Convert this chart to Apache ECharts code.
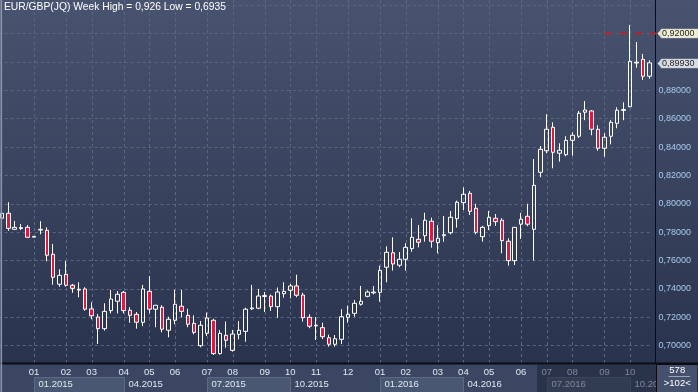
<!DOCTYPE html>
<html><head><meta charset="utf-8">
<script src="https://cdn.jsdelivr.net/npm/echarts@6/dist/echarts.min.js"></script>
<style>html,body{margin:0;padding:0;background:#2c3752;}#c{width:698px;height:392px;}</style>
</head><body><div id="c"></div>
<script>
// ---- data ----
const titleText = 'EUR/GBP(JQ) Week High = 0,926 Low = 0,6935';
const categories = [
 '2014-11-24','2014-12-01','2014-12-08','2014-12-15','2014-12-22','2014-12-29',
 '2015-01-05','2015-01-12','2015-01-19','2015-01-26','2015-02-02','2015-02-09','2015-02-16','2015-02-23',
 '2015-03-02','2015-03-09','2015-03-16','2015-03-23','2015-03-30','2015-04-06','2015-04-13','2015-04-20','2015-04-27',
 '2015-05-04','2015-05-11','2015-05-18','2015-05-25','2015-06-01','2015-06-08','2015-06-15','2015-06-22','2015-06-29',
 '2015-07-06','2015-07-13','2015-07-20','2015-07-27','2015-08-03','2015-08-10','2015-08-17','2015-08-24','2015-08-31',
 '2015-09-07','2015-09-14','2015-09-21','2015-09-28','2015-10-05','2015-10-12','2015-10-19','2015-10-26',
 '2015-11-02','2015-11-09','2015-11-16','2015-11-23','2015-11-30','2015-12-07','2015-12-14','2015-12-21','2015-12-28',
 '2016-01-01','2016-01-04','2016-01-11','2016-01-18','2016-01-25','2016-02-01','2016-02-08','2016-02-15','2016-02-22','2016-02-29',
 '2016-03-07','2016-03-14','2016-03-21','2016-03-28','2016-04-04','2016-04-11','2016-04-18','2016-04-25',
 '2016-05-02','2016-05-09','2016-05-16','2016-05-23','2016-05-30','2016-06-06','2016-06-13','2016-06-20','2016-06-27',
 '2016-07-04','2016-07-11','2016-07-18','2016-07-25','2016-08-01','2016-08-08','2016-08-15','2016-08-22','2016-08-29',
 '2016-09-05','2016-09-12','2016-09-19','2016-09-26','2016-10-03','2016-10-10','2016-10-17','2016-10-24'
];
const openVals = [
 0.7898,0.7933,0.7820,0.7826,0.7834,0.7765,0.7815,0.7813,0.7644,0.7433,
 0.7503,0.7426,0.7392,0.7400,0.7259,0.7202,0.7120,0.7247,0.7313,0.7376,
 0.7249,0.7221,0.7165,0.7383,0.7257,0.7271,0.7109,0.7179,0.7278,0.7214,
 0.7158,0.7000,0.7087,0.7179,0.6944,0.7073,0.6967,0.7080,0.7101,0.7260,
 0.7264,0.7347,0.7350,0.7275,0.7366,0.7390,0.7421,0.7357,0.7200,0.7140,
 0.7127,0.7056,0.7010,0.7045,0.7200,0.7228,0.7292,0.7348,0.7372,0.7376,
 0.7553,0.7655,0.7567,0.7609,0.7684,0.7750,0.7775,0.7877,0.7726,0.7775,
 0.7796,0.7895,0.8008,0.8074,0.7968,0.7768,0.7846,0.7898,0.7884,0.7736,
 0.7599,0.7856,0.7912,0.7820,0.8222,0.8374,0.8539,0.8356,0.8346,0.8447,
 0.8476,0.8645,0.8654,0.8525,0.8391,0.8476,0.8567,0.8658,0.8684,0.8992,
 0.9018,0.8899
];
const closeVals = [
 0.7933,0.7827,0.7834,0.7832,0.7764,0.7770,0.7820,0.7637,0.7482,0.7496,
 0.7426,0.7404,0.7398,0.7257,0.7211,0.7120,0.7242,0.7329,0.7362,0.7247,
 0.7214,0.7165,0.7400,0.7257,0.7285,0.7116,0.7186,0.7292,0.7242,0.7151,
 0.7094,0.7144,0.7195,0.6944,0.7087,0.7038,0.7082,0.7109,0.7257,0.7266,
 0.7350,0.7353,0.7275,0.7378,0.7383,0.7421,0.7355,0.7197,0.7137,0.7144,
 0.7063,0.7010,0.7049,0.7204,0.7221,0.7299,0.7313,0.7378,0.7378,0.7531,
 0.7658,0.7576,0.7609,0.7693,0.7764,0.7729,0.7884,0.7736,0.7757,0.7782,
 0.7905,0.8011,0.8067,0.7947,0.7799,0.7834,0.7905,0.7874,0.7740,0.7599,
 0.7834,0.7891,0.7856,0.8130,0.8384,0.8525,0.8363,0.8377,0.8447,0.8483,
 0.8638,0.8661,0.8525,0.8391,0.8469,0.8574,0.8659,0.8664,0.9004,0.8998,
 0.8899,0.8993
];
const lowVals = [
 0.7885,0.7810,0.7818,0.7815,0.7762,0.7763,0.7785,0.7595,0.7430,0.7416,
 0.7416,0.7373,0.7341,0.7247,0.7186,0.7012,0.7106,0.7228,0.7228,0.7228,
 0.7162,0.7120,0.7137,0.7228,0.7130,0.7094,0.7059,0.7151,0.7200,0.7130,
 0.7080,0.6989,0.7068,0.6935,0.6937,0.6986,0.6958,0.7045,0.7028,0.7252,
 0.7257,0.7237,0.7245,0.7197,0.7338,0.7334,0.7341,0.7169,0.7123,0.7040,
 0.7047,0.6993,0.6993,0.7012,0.7162,0.7204,0.7282,0.7341,0.7362,0.7310,
 0.7447,0.7529,0.7553,0.7529,0.7662,0.7693,0.7733,0.7691,0.7651,0.7733,
 0.7785,0.7832,0.7956,0.7921,0.7785,0.7733,0.7815,0.7844,0.7651,0.7564,
 0.7569,0.7752,0.7842,0.7600,0.8187,0.8356,0.8250,0.8297,0.8335,0.8339,
 0.8464,0.8589,0.8483,0.8374,0.8332,0.8419,0.8532,0.8589,0.8680,0.8959,
 0.8872,0.8882
];
const highVals = [
 0.7950,0.8011,0.7879,0.7858,0.7850,0.7772,0.7877,0.7834,0.7717,0.7538,
 0.7597,0.7435,0.7447,0.7412,0.7306,0.7223,0.7299,0.7393,0.7385,0.7385,
 0.7271,0.7237,0.7428,0.7491,0.7287,0.7285,0.7204,0.7393,0.7393,0.7260,
 0.7214,0.7174,0.7233,0.7190,0.7110,0.7170,0.7111,0.7174,0.7268,0.7428,
 0.7400,0.7378,0.7360,0.7410,0.7447,0.7435,0.7500,0.7373,0.7221,0.7202,
 0.7162,0.7078,0.7075,0.7257,0.7282,0.7322,0.7421,0.7390,0.7420,0.7564,
 0.7700,0.7764,0.7660,0.7722,0.7898,0.7850,0.7937,0.7902,0.7850,0.7914,
 0.7950,0.8022,0.8116,0.8090,0.8000,0.7844,0.7950,0.7928,0.7898,0.7757,
 0.7836,0.7935,0.8000,0.8315,0.8407,0.8631,0.8574,0.8426,0.8476,0.8504,
 0.8654,0.8724,0.8661,0.8553,0.8497,0.8589,0.8680,0.8715,0.9260,0.9140,
 0.9056,0.9011
];
// month ticks (category index -> label)
const monthTickIdx = [5,10,14,19,23,27,32,36,41,45,49,54,59,63,68,72,76,81,85,89,94,98];
const monthTickLbl = ['01','02','03','04','05','06','07','08','09','10','11','12','01','02','03','04','05','06','07','08','09','10'];
// quarter period labels
const periodIdx = [5,19,32,45,59,72,85,98];
const periodLbl = ['01.2015','04.2015','07.2015','10.2015','01.2016','04.2016','07.2016','10.2016'];
const alertLevel = 0.92;
const alertFromIdx = 94;
const dimFromIdx = 84;
const cornerTop = '578';
const cornerBottom = '>102<';

// ---- chart ----
const W = 698, H = 392, STRIP = 29;
const PLOT_B = H - STRIP;
const FONT = '"Liberation Sans", Arial, sans-serif';
const candleData = categories.map((c, i) => [openVals[i], closeVals[i], lowVals[i], highVals[i]]);
const fmt = v => v.toFixed(5).replace('.', ',');
const tickMap = {};
monthTickIdx.forEach((t, k) => tickMap[t] = monthTickLbl[k]);

const chart = echarts.init(document.getElementById('c'), null, {renderer: 'canvas', width: W, height: H});
const option = {
  animation: false,
  backgroundColor: {type: 'linear', x: 0, y: 0, x2: 0, y2: 1, colorStops: [
    {offset: 0, color: '#48536f'},
    {offset: PLOT_B / H, color: '#29334e'},
    {offset: PLOT_B / H, color: '#3a4662'},
    {offset: 1, color: '#3a4662'}
  ]},
  title: {text: titleText, left: 4, top: 2, padding: 0,
    textStyle: {color: '#ffffff', fontSize: 10.3, fontWeight: 'normal', fontFamily: FONT}},
  grid: {left: -1.315, right: 45.5, top: 0, bottom: STRIP, containLabel: false, outerBoundsMode: 'none'},
  xAxis: {
    type: 'category', data: categories, boundaryGap: true,
    axisLine: {show: false}, axisTick: {show: false}, splitLine: {show: false},
    axisLabel: {
      interval: (i) => tickMap[i] !== undefined,
      formatter: (v, i) => tickMap[i] || '',
      margin: 4, color: '#e2e8f1', fontSize: 9.5, fontFamily: FONT
    }
  },
  yAxis: {
    type: 'value', position: 'right', offset: 3,
    min: 0.6878, max: 0.9436, splitNumber: 13, minInterval: 0.02, maxInterval: 0.02,
    axisLine: {show: true, lineStyle: {color: '#0b0d12', width: 1}},
    axisTick: {show: false},
    axisLabel: {margin: 3, color: '#a8caee', fontSize: 9, fontFamily: FONT,
      showMinLabel: false, showMaxLabel: false,
      formatter: v => (v > 0.895 ? '' : fmt(v))},
    splitLine: {show: true, showMinLine: false, showMaxLine: false,
      lineStyle: {color: '#5b6781', type: [3, 3], width: 1}}
  },
  series: [{
    type: 'candlestick', data: candleData, barWidth: 4,
    itemStyle: {color: 'rgba(0,0,0,0)', color0: '#e3173e', borderColor: '#ffffff', borderColor0: '#ffffff', borderWidth: 1},
    z: 3
  }]
};
chart.setOption(option);

// decorations positioned through the chart's own scales
const cx = i => chart.convertToPixel({xAxisIndex: 0}, i);
const cy = v => chart.convertToPixel({yAxisIndex: 0}, v);
const band = cx(1) - cx(0);
const gridRight = cx(categories.length - 1) + band / 2;
const axisX = Math.round(gridRight + 3) + 0.5;
const els = [];
// month grid lines
monthTickIdx.forEach(i => {
  const x = Math.round(cx(i)) + 0.5;
  els.push({type: 'line', z: 1, silent: true, shape: {x1: x, y1: 0, x2: x, y2: PLOT_B},
    style: {stroke: '#5b6781', lineWidth: 1, lineDash: [3, 3]}});
});
// bottom strip line
els.push({type: 'line', z: 40, silent: true, shape: {x1: 0, y1: PLOT_B + 0.5, x2: W, y2: PLOT_B + 0.5},
  style: {stroke: '#0b0d12', lineWidth: 2}});
// period boxes & labels
periodIdx.forEach((p, k) => {
  const x0 = Math.round(cx(p)) + 0.5;
  const x1 = k + 1 < periodIdx.length ? Math.round(cx(periodIdx[k + 1])) + 0.5 : axisX;
  if (k % 2 === 0) {
    els.push({type: 'rect', z: 20, silent: true, shape: {x: x0, y: PLOT_B + 14.5, width: x1 - x0, height: 20},
      style: {fill: '#4a5773', stroke: '#5d6a86', lineWidth: 1}});
  }
  els.push({type: 'text', z: 21, silent: true, style: {text: periodLbl[k], x: x0 + 4, y: PLOT_B + 21.5,
    fill: '#e2e8f1', font: '9.5px ' + FONT, textAlign: 'left', textVerticalAlign: 'middle', align: 'left', verticalAlign: 'middle'}});
});
// dimmed window
const dimX = cx(dimFromIdx) - band / 2;
els.push({type: 'rect', z: 45, silent: true, shape: {x: dimX, y: PLOT_B + 1.5, width: axisX - dimX, height: STRIP},
  style: {fill: 'rgba(24,32,50,0.5)'}});
// corner box
els.push({type: 'rect', z: 50, silent: true, shape: {x: axisX, y: PLOT_B + 1.5, width: W - axisX, height: STRIP},
  style: {fill: '#45516c', stroke: '#0b0d12', lineWidth: 1}});
els.push({type: 'text', z: 51, silent: true, style: {text: cornerTop, x: (axisX + W) / 2, y: PLOT_B + 7.5,
  fill: '#ffffff', font: '9.5px ' + FONT, textAlign: 'center', textVerticalAlign: 'middle', align: 'center', verticalAlign: 'middle'}});
els.push({type: 'line', z: 51, silent: true, shape: {x1: axisX + 12, y1: PLOT_B + 13.5, x2: W - 8, y2: PLOT_B + 13.5},
  style: {stroke: '#9aa4b8', lineWidth: 1}});
els.push({type: 'text', z: 51, silent: true, style: {text: cornerBottom, x: (axisX + W) / 2, y: PLOT_B + 20.5,
  fill: '#ffffff', font: '9.5px ' + FONT, textAlign: 'center', textVerticalAlign: 'middle', align: 'center', verticalAlign: 'middle'}});
// alert line
const ay = Math.round(cy(alertLevel)) + 0.5;
els.push({type: 'line', z: 2, silent: true, shape: {x1: cx(alertFromIdx), y1: ay, x2: axisX, y2: ay},
  style: {stroke: '#b0262c', lineWidth: 2, lineDash: [8, 7]}});
// value markers on the axis
[[alertLevel, '#f1f0d6'], [closeVals[closeVals.length - 1], '#d9dee7']].forEach(([v, fill]) => {
  const y = Math.round(cy(v)) + 0.5;
  els.push({type: 'polygon', z: 55, silent: true, shape: {points: [[axisX + 1, y], [axisX + 5, y - 4.5], [axisX + 5, y + 4.5]]},
    style: {fill: fill}});
  els.push({type: 'rect', z: 55, silent: true, shape: {x: axisX + 4.5, y: y - 4.5, width: 37, height: 9},
    style: {fill: fill, stroke: '#b8bcc4', lineWidth: 0.5}});
  els.push({type: 'text', z: 56, silent: true, style: {text: fmt(v), x: axisX + 5.5, y: y,
    fill: '#1c1c1c', font: '9px ' + FONT, textAlign: 'left', textVerticalAlign: 'middle', align: 'left', verticalAlign: 'middle'}});
});
// left border
els.push({type: 'rect', z: 60, silent: true, shape: {x: 0.5, y: 0, width: 1.6, height: H}, style: {fill: '#8d97a9'}});
els.push({type: 'line', z: 40, silent: true, shape: {x1: axisX, y1: PLOT_B, x2: axisX, y2: H}, style: {stroke: '#0b0d12', lineWidth: 1}});
chart.setOption({graphic: {elements: els}});
</script>
</body></html>
